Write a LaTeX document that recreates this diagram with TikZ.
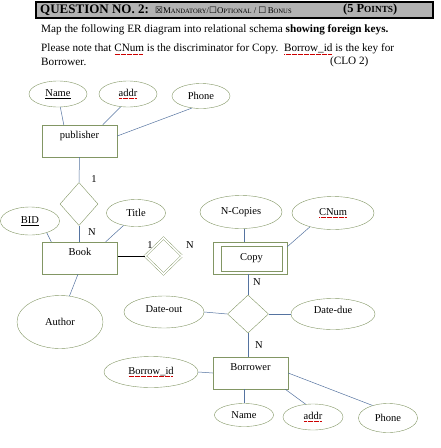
\documentclass[tikz,border=0pt]{standalone}
\usepackage{fontspec}
\setmainfont{Liberation Serif}
\newfontfamily\symfont{DejaVu Sans}
\usetikzlibrary{shapes.geometric}
\definecolor{entcol}{RGB}{130,150,100}
\definecolor{lncol}{RGB}{85,115,160}
\definecolor{barcol}{RGB}{178,178,178}
% red spell-check underline
\newcommand\squig[1]{\leavevmode\setbox0=\hbox{#1}%
  \rlap{\textcolor{red!80!black}{\hbox to\wd0{\leaders\hbox to 1.2pt{\hss\rule[-2.4pt]{0.55pt}{0.5pt}\hss}\hfill}}}\box0{}}
\newcommand\fsc[2]{#1{\fontsize{6.6}{7}\selectfont #2}}
\tikzset{
  ent/.style={draw=entcol, minimum width=75pt, minimum height=32pt, inner sep=3pt,
    text height=7pt, text depth=12pt, font=\fontsize{10.5}{12}\selectfont},
  attr/.style={draw=entcol, ellipse, inner sep=0pt, font=\fontsize{10.5}{12}\selectfont},
  rel/.style={draw=entcol, diamond, inner sep=0pt},
  card/.style={font=\fontsize{10.5}{12}\selectfont, inner sep=0pt},
  conn/.style={draw=lncol, line width=0.5pt},
  txt/.style={anchor=west, inner sep=0pt, font=\fontsize{11.2}{13}\selectfont}
}
\begin{document}
\begin{tikzpicture}[x=1pt,y=-1pt]
  \useasboundingbox (0,0) rectangle (441,448);
  % header
  \draw[fill=barcol, line width=1.1pt] (36,2) rectangle (433,18);
  \node[anchor=west, inner sep=0pt, font=\fontsize{13}{14}\selectfont\bfseries] (qno) at (40,10)
    {QUESTION NO. 2:};
  \node[anchor=west, inner sep=0pt, font=\fontsize{8.8}{9}\selectfont] (opts) at (155,10.5)
    {{\symfont ☒}\fsc{M}{ANDATORY}/{\symfont ☐}\fsc{O}{PTIONAL} / {\symfont ☐}\,\fsc{B}{ONUS}};
  \node[anchor=west, inner sep=0pt, font=\fontsize{12.4}{14}\selectfont\bfseries] (pts) at (343,10)
    {(5 P{\fontsize{9.3}{10}\selectfont OINTS})};
  \node[txt] (q1) at (41,30) {Map the following ER diagram into relational schema \textbf{showing foreign keys.}};
  \node[txt] (q2) at (41,49) {Please note that \squig{CNum} is the discriminator for Copy.\ \ \squig{Borrow\_id} is the key for};
  \node[txt] (q3) at (41,62) {Borrower.};
  \node[txt] (clo) at (330,62) {(CLO 2)};

  % entities
  \node[ent] (pub) at (79.5,141) {publisher};
  \node[ent] (book) at (80,258) {Book};
  \node[ent] (bwr) at (250.5,373) {Borrower};
  \node[draw=entcol, minimum width=74pt, minimum height=32pt] (copy) at (250,258) {};
  \node[draw=entcol, minimum width=61pt, minimum height=25pt,
    font=\fontsize{10.5}{12}\selectfont] (copyin) at (251.5,258.5) {Copy};

  % relationships
  \node[rel, minimum width=38pt, minimum height=43pt] (pubd) at (79,204) {};
  \node[rel, minimum width=37pt, minimum height=36pt, double, double distance=1.6pt] (wk) at (163.5,256) {};
  \node[rel, minimum width=41pt, minimum height=38pt] (bord) at (248,314) {};

  % attributes
  \node[attr, minimum width=58pt, minimum height=26pt] (name1) at (58,94) {\underline{Name}};
  \node[attr, minimum width=58pt, minimum height=26pt] (addr1) at (128,94) {\squig{addr}};
  \node[attr, minimum width=58pt, minimum height=25pt] (phone1) at (201,96) {Phone};
  \node[attr, minimum width=59pt, minimum height=28pt] (bid) at (30,221) {\underline{BID}};
  \node[attr, minimum width=59pt, minimum height=27pt] (title) at (136,213) {Title};
  \node[attr, minimum width=86pt, minimum height=53pt] (author) at (60,322) {Author};
  \node[attr, minimum width=82pt, minimum height=33pt] (ncop) at (241,212) {N-Copies};
  \node[attr, minimum width=82pt, minimum height=33pt] (cnum) at (333,213) {\squig{CNum}};
  \node[attr, minimum width=80pt, minimum height=32pt] (dout) at (164,312) {};
  \node[card] (douttxt) at (164,309) {Date-out};
  \node[attr, minimum width=84pt, minimum height=31pt] (ddue) at (333,314) {};
  \node[card] (dduetxt) at (333,310) {Date-due};
  \node[attr, minimum width=94pt, minimum height=31pt] (brid) at (151,372) {\squig{Borrow\_id}};
  \node[attr, minimum width=59pt, minimum height=23pt] (name2) at (244,415) {Name};
  \node[attr, minimum width=60pt, minimum height=26pt] (addr2) at (313,417) {\squig{addr}};
  \node[attr, minimum width=59pt, minimum height=29pt] (phone2) at (388,418) {Phone};

  % cardinalities
  \node[card] (c1) at (94,179) {1};
  \node[card] (c2) at (92,232) {N};
  \node[card] (c3) at (150,245) {1};
  \node[card] (c4) at (190,245) {N};
  \node[card] (c5) at (257,282) {N};
  \node[card] (c6) at (259,345) {N};

  % connectors
  \begin{scope}[conn]
    \draw (name1.280) -- ([xshift=22pt]pub.north west);
    \draw (addr1.240) -- ([xshift=61pt]pub.north west);
    \draw (phone1.233) -- ([yshift=5pt]pub.east);
    \draw (pub.south) -- (pubd.north);
    \draw (pubd.south) -- (pubd.south |- book.north);
    \draw (bid.325) -- ([xshift=9pt]book.north west);
    \draw (title.225) -- ([xshift=-12pt]book.north east);
    \draw ([xshift=-2pt]book.south) -- (author.70);
    \draw ([xshift=3pt]ncop.south) -- ([xshift=-6pt]copy.north);
    \draw (cnum.211) -- ([yshift=-5pt]copy.north east);
    \draw ([xshift=-2pt]copy.south) -- (bord.north);
    \draw (dout.east) -- (bord.west);
    \draw (bord.east) -- (ddue.west);
    \draw (bord.south) -- (bord.south |- bwr.north);
    \draw (brid.east) -- (bwr.west);
    \draw ([xshift=-6.5pt]bwr.south) -- (name2.north);
    \draw (addr2.120) -- ([xshift=-3pt]bwr.south east);
    \draw (phone2.141) -- (bwr.east);
    \draw[double, double distance=1.4pt] (wk.east) -- (wk.east -| copy.west);
  \end{scope}
  \draw ([yshift=2pt]book.east) -- (wk.west);
\end{tikzpicture}
\end{document}
